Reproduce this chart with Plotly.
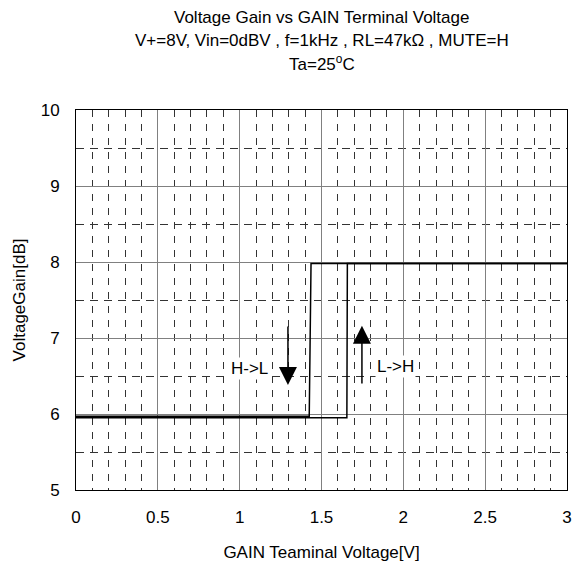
import plotly.graph_objects as go

# Data
hl_x = [0, 1.425, 1.436, 3.0]
hl_y = [5.97, 5.97, 7.98, 7.98]
lh_x = [0, 1.655, 1.658, 3.0]
lh_y = [5.95, 5.95, 7.98, 7.98]
x_ticks = [0, 0.5, 1, 1.5, 2, 2.5, 3]
x_tick_labels = ["0", "0.5", "1", "1.5", "2", "2.5", "3"]
y_ticks = [5, 6, 7, 8, 9, 10]
title_lines = ["Voltage Gain vs GAIN Terminal Voltage",
               "V+=8V, Vin=0dBV , f=1kHz , RL=47kΩ , MUTE=H",
               "Ta=25<sup>o</sup>C"]

FONT = "Arial, Liberation Sans, sans-serif"
FS = 17

fig = go.Figure()
fig.add_trace(go.Scatter(x=hl_x, y=hl_y, mode="lines",
                         line=dict(color="black", width=1.5), showlegend=False))
fig.add_trace(go.Scatter(x=lh_x, y=lh_y, mode="lines",
                         line=dict(color="black", width=1.5), showlegend=False))

# arrows
fig.add_annotation(x=1.295, y=6.38, ax=1.295, ay=7.17, xref="x", yref="y",
                   axref="x", ayref="y", showarrow=True, arrowhead=2,
                   arrowsize=2.4, arrowwidth=1.5, arrowcolor="black", text="")
fig.add_annotation(x=1.747, y=7.16, ax=1.747, ay=6.38, xref="x", yref="y",
                   axref="x", ayref="y", showarrow=True, arrowhead=2,
                   arrowsize=2.4, arrowwidth=1.5, arrowcolor="black", text="")
fig.add_annotation(x=1.063, y=6.6, text="H->L", showarrow=False,
                   font=dict(family=FONT, size=FS, color="black"), bgcolor="white")
fig.add_annotation(x=1.95, y=6.62, text="L->H", showarrow=False,
                   font=dict(family=FONT, size=FS, color="black"), bgcolor="white")

# title lines (page y 17, 41, 63 -> paper coords above plot area)
for txt, yy in zip(title_lines, [1.2447, 1.1816, 1.1237]):
    fig.add_annotation(x=0.5, y=yy, xref="paper", yref="paper", text=txt,
                       showarrow=False, xanchor="center", yanchor="middle",
                       font=dict(family=FONT, size=FS, color="black"))

fig.update_layout(
    width=574, height=564,
    margin=dict(l=76, r=7, t=110, b=74),
    paper_bgcolor="white", plot_bgcolor="white",
    font=dict(family=FONT, size=FS, color="black"),
    xaxis=dict(range=[0, 3], tickvals=x_ticks, ticktext=x_tick_labels,
               showgrid=True, gridcolor="#808080", gridwidth=1,
               minor=dict(dtick=0.1, showgrid=True, gridcolor="#333333",
                          griddash="7px,7px", gridwidth=1),
               showline=True, linecolor="black", linewidth=1, mirror=True,
               ticks="", ticklabelstandoff=12, zeroline=False,
               ticklabeloverflow="allow", automargin=False,
               title=dict(text="GAIN Teaminal Voltage[V]", standoff=19,
                          font=dict(family=FONT, size=FS))),
    yaxis=dict(range=[5, 10], tickvals=y_ticks,
               showgrid=True, gridcolor="#808080", gridwidth=1,
               minor=dict(dtick=0.5, showgrid=True, gridcolor="#333333",
                          griddash="8px,6px", gridwidth=1),
               showline=True, linecolor="black", linewidth=1, mirror=True,
               ticks="", ticklabelstandoff=12, zeroline=False,
               ticklabeloverflow="allow", automargin=False,
               title=dict(text="VoltageGain[dB]", standoff=10,
                          font=dict(family=FONT, size=FS))),
)

fig.write_html("out.html", config={"displayModeBar": False},
               post_script="document.body.style.margin='0';document.body.style.overflow='hidden';")
